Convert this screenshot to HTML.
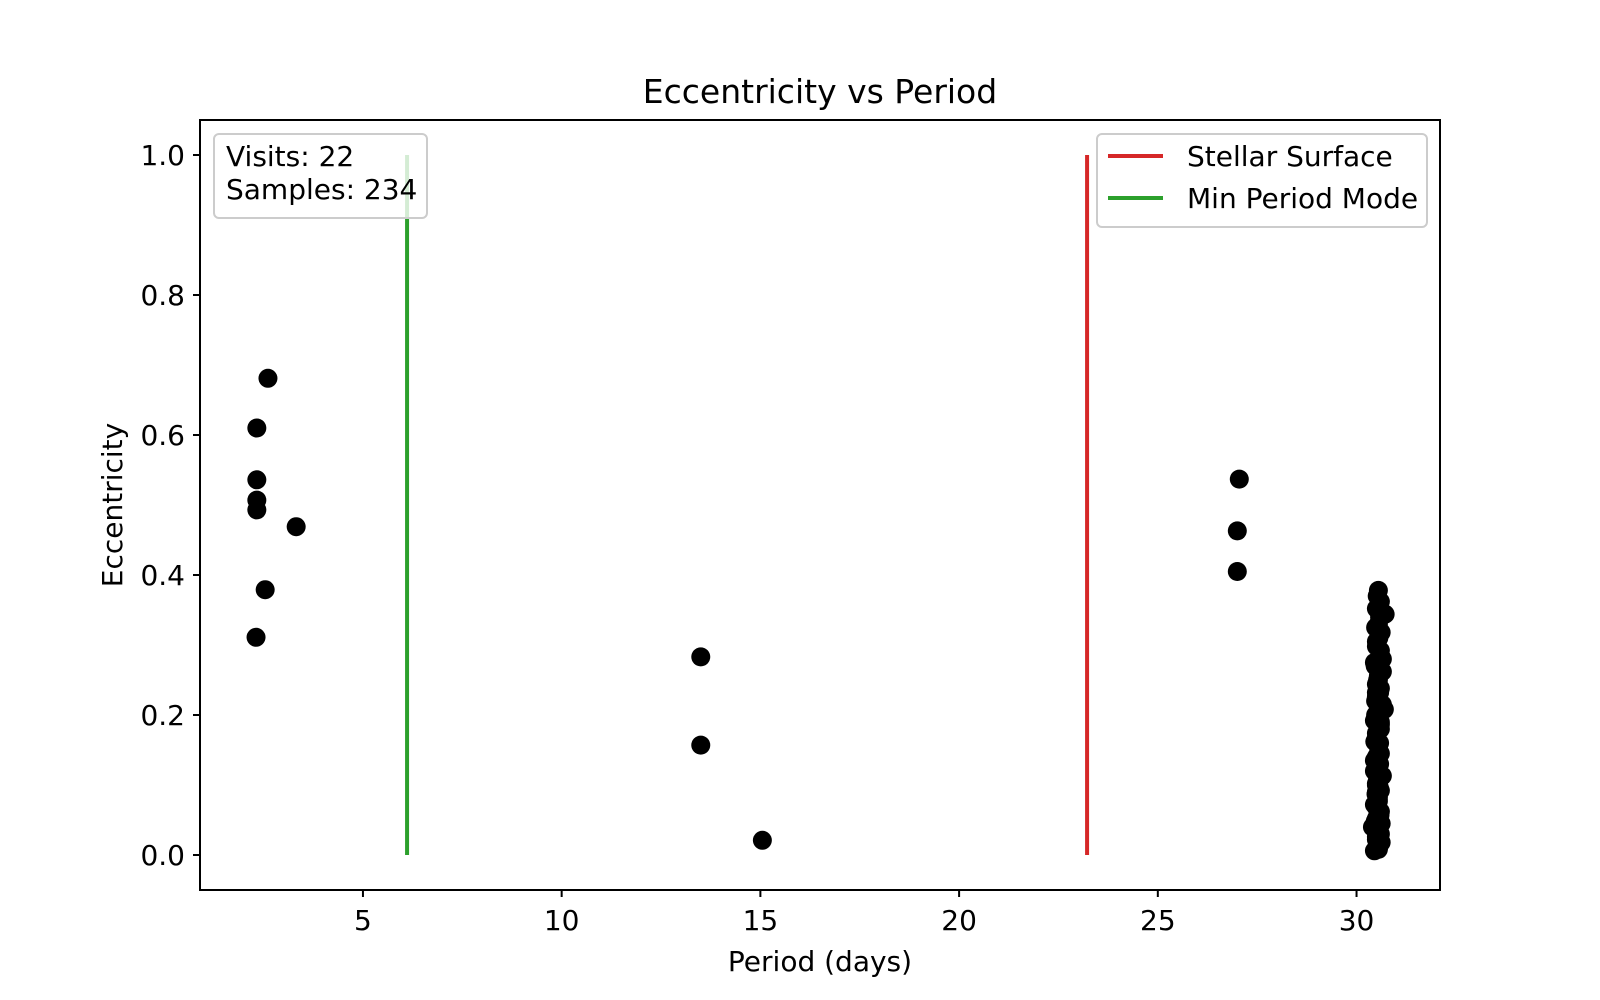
<!DOCTYPE html>
<html><head><meta charset="utf-8"><style>
html,body{margin:0;padding:0;background:#fff;}
svg{display:block;font-family:"DejaVu Sans","Liberation Sans",sans-serif;}
</style></head><body>
<svg id="chart" width="1600" height="1000" viewBox="0 0 1600 1000" xmlns="http://www.w3.org/2000/svg">
<rect x="0" y="0" width="1600" height="1000" fill="#fff"/>
<text x="820" y="103" font-size="33" text-anchor="middle">Eccentricity vs Period</text>
<text x="820" y="971" font-size="28" text-anchor="middle">Period (days)</text>
<text transform="translate(122,505) rotate(-90)" font-size="28" text-anchor="middle">Eccentricity</text>
<g id="plot"></g>
<rect x="200" y="120" width="1240" height="770" fill="none" stroke="#000" stroke-width="2"/>
<g>
<rect x="214" y="134" width="213" height="84" rx="5" fill="#fff" fill-opacity="0.8" stroke="#ccc" stroke-width="2"/>
<text x="226" y="166" font-size="28">Visits: 22</text>
<text x="226" y="199" font-size="28">Samples: 234</text>
</g>
<g>
<rect x="1097" y="134" width="330" height="93" rx="5" fill="#fff" fill-opacity="0.8" stroke="#ccc" stroke-width="2"/>
<line x1="1108" y1="156" x2="1163" y2="156" stroke="#d62728" stroke-width="4"/>
<text x="1187" y="166" font-size="28">Stellar Surface</text>
<line x1="1108" y1="198" x2="1163" y2="198" stroke="#2ca02c" stroke-width="4"/>
<text x="1187" y="208" font-size="28">Min Period Mode</text>
</g>
</svg>
<script>
const periods = [2.61,2.33,2.33,2.33,2.33,3.32,2.54,2.31,13.5,13.5,15.05,27.05,27.0,27.0,
30.55,30.6,30.5,30.72,30.55,30.62,30.5,30.6,30.45,30.65,30.55,30.6,30.5,30.65,30.55,30.45,30.6,30.7,30.5,30.55,30.6,30.45,30.55,30.65,30.5,30.6,30.55,30.45,30.6,30.5,30.55,30.62,30.45,30.6,30.5,30.55,30.4,30.62,30.5,30.45,30.55,30.6,30.5,30.45,30.65,30.5,30.55,
30.52,30.58,30.48,30.56,30.5,30.6,30.47,30.55,30.5,30.58,30.48,30.55,30.52,30.6,30.5,30.46,30.56,30.5,30.58,30.48,30.53,30.57,30.49,30.55,30.51,30.59,30.47,30.54,30.5,30.56,30.48,30.53,30.58,30.5,30.55];
const eccs = [0.681,0.61,0.536,0.507,0.493,0.469,0.379,0.311,0.283,0.157,0.021,0.537,0.463,0.405,
0.378,0.362,0.352,0.344,0.33,0.318,0.305,0.292,0.275,0.262,0.25,0.238,0.226,0.215,0.205,0.192,0.18,0.208,0.168,0.156,0.145,0.135,0.124,0.113,0.102,0.092,0.082,0.072,0.062,0.052,0.043,0.045,0.038,0.03,0.022,0.015,0.04,0.018,0.01,0.006,0.008,0.19,0.232,0.12,0.28,0.1,0.06,
0.37,0.34,0.325,0.31,0.298,0.285,0.27,0.256,0.244,0.232,0.22,0.21,0.198,0.186,0.174,0.162,0.15,0.14,0.13,0.118,0.108,0.097,0.087,0.077,0.067,0.057,0.048,0.035,0.026,0.012,0.2,0.25,0.16,0.09,0.03];
const xTicks = [5,10,15,20,25,30];
const yTicks = [0.0,0.2,0.4,0.6,0.8,1.0];
const vLines = [{x:23.22,color:'#d62728',name:'stellar-surface-line'},{x:6.11,color:'#2ca02c',name:'min-period-line'}];
const X0=0.9,X1=32.1,Y0=-0.05,Y1=1.05;
function sx(v){return 200+(v-X0)/(X1-X0)*1240;}
function sy(v){return 890-(v-Y0)/(Y1-Y0)*770;}
const NS='http://www.w3.org/2000/svg';
const svg=document.getElementById('chart');
const plot=document.getElementById('plot');
function mk(tag,attrs,parent){const e=document.createElementNS(NS,tag);for(const k in attrs)e.setAttribute(k,attrs[k]);(parent||svg).appendChild(e);return e;}
xTicks.forEach(t=>{
  const l=mk('line',{x1:sx(t),x2:sx(t),y1:890,y2:897,stroke:'#000','stroke-width':2});
  
  
  const tx=mk('text',{x:sx(t),y:930,'font-size':28,'text-anchor':'middle'});
  tx.textContent=String(t);
  
  
});
yTicks.forEach(t=>{
  const l=mk('line',{x1:193,x2:200,y1:sy(t),y2:sy(t),stroke:'#000','stroke-width':2});
  
  
  const tx=mk('text',{x:185,y:sy(t)+10,'font-size':28,'text-anchor':'end'});
  tx.textContent=t.toFixed(1);
  
  
});
vLines.forEach(v=>{
  const l=mk('line',{x1:sx(v.x),x2:sx(v.x),y1:sy(0),y2:sy(1),stroke:v.color,'stroke-width':4},plot);
  
  
});
periods.forEach((p,i)=>{
  const c=mk('circle',{cx:sx(p),cy:sy(eccs[i]),r:9.5,fill:'#000'},plot);
  
  
});
</script>
</body></html>
